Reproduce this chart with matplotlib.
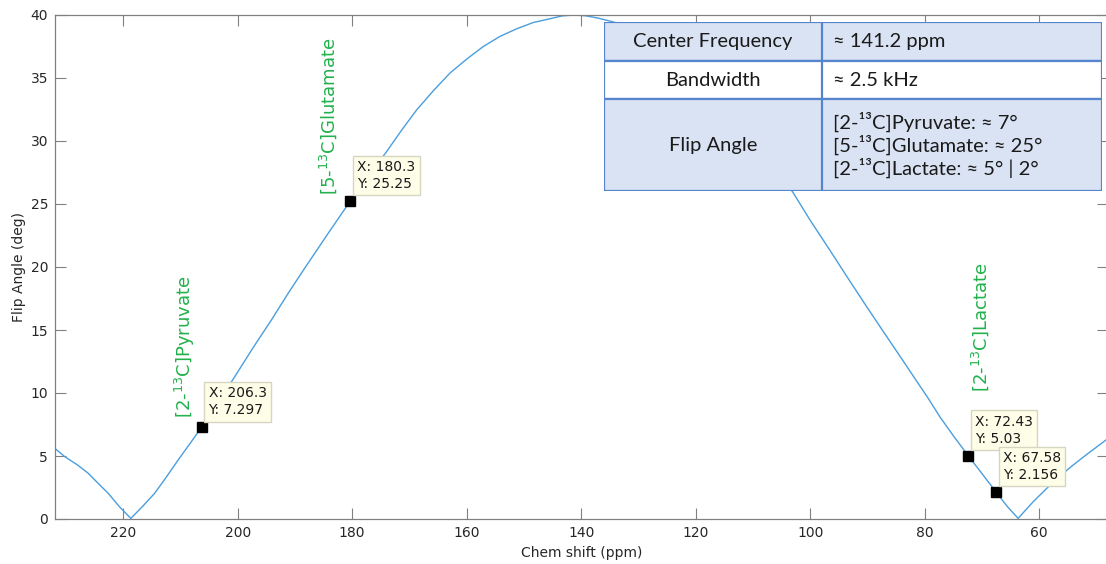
import matplotlib.pyplot as plt
from matplotlib.patches import Rectangle

# flip angle profile
shift_ppm = [231.9, 230.2, 228.0, 226.1, 224.3, 222.6, 220.6, 218.65, 216.5, 214.5,
             212.5, 210.4, 208.3, 206.3, 203.5, 200.5, 197.3, 194.1, 191.2, 188.3,
             184.3, 180.3, 177.2, 174.0, 171.3, 168.75, 165.8, 162.9, 160.0, 157.1,
             154.2, 151.3, 148.4, 145.5, 143.3, 141.2, 139.1, 137.0, 134.0, 131.0,
             128.0, 125.0, 122.0, 119.0, 116.0, 113.0, 110.0, 106.5, 103.1, 100.0,
             96.6, 93.4, 90.15, 87.2, 84.3, 81.8, 79.4, 77.35, 75.0, 72.43,
             70.0, 67.58, 65.6, 63.7, 61.0, 58.1, 54.6, 51.5, 48.35, 47.5]
flip_deg = [5.6, 4.95, 4.3, 3.63, 2.8, 2.04, 0.95, 0.05, 1.05, 2.04,
            3.3, 4.68, 6.0, 7.297, 9.2, 11.3, 13.6, 15.8, 17.9, 19.9,
            22.6, 25.25, 27.2, 29.15, 30.9, 32.46, 34.0, 35.4, 36.5, 37.5,
            38.3, 38.9, 39.4, 39.7, 39.93, 40.0, 39.93, 39.75, 39.4, 38.9,
            38.2, 37.3, 36.1, 34.7, 33.1, 31.3, 29.4, 27.6, 25.98, 23.7,
            21.35, 19.1, 16.85, 14.85, 12.9, 11.2, 9.58, 8.1, 6.6, 5.03,
            3.6, 2.156, 1.0, 0.05, 1.4, 2.7, 4.1, 5.2, 6.27, 6.6]

# data tips
tip_x = [206.3, 180.3, 72.43, 67.58]
tip_y = [7.297, 25.25, 5.03, 2.156]
tip_text = ['X: 206.3\nY: 7.297', 'X: 180.3\nY: 25.25',
            'X: 72.43\nY: 5.03', 'X: 67.58\nY: 2.156']

# green metabolite labels (x, bottom y)
metab_names = [r'[2-$^{13}$C]Pyruvate', r'[5-$^{13}$C]Glutamate', r'[2-$^{13}$C]Lactate']
metab_x = [209.2, 184.25, 70.35]
metab_y = [8.0, 25.7, 10.1]

# table contents
row_names = ['Center Frequency', 'Bandwidth', 'Flip Angle']
row_values = ['≈ 141.2 ppm', '≈ 2.5 kHz',
              '[2-¹³C]Pyruvate: ≈ 7°\n[5-¹³C]Glutamate: ≈ 25°\n[2-¹³C]Lactate: ≈ 5° | 2°']

W, H = 1106, 564
fig = plt.figure(figsize=(W / 100, H / 100), dpi=100)
ax = fig.add_axes([55 / W, 1 - 519 / H, (1108 - 55) / W, (519 - 15) / H])

ax.plot(shift_ppm, flip_deg, color='#4a9ede', linewidth=1.0)
ax.plot(tip_x, tip_y, 's', color='black', markersize=7, linestyle='none')

for x, y, t in zip(tip_x, tip_y, tip_text):
    ax.annotate(t, (x, y), xytext=(5, 7), textcoords='offset points',
                ha='left', va='bottom', fontsize=10, color='#1a1a1a',
                linespacing=1.3,
                bbox=dict(boxstyle='square,pad=0.3', fc='#fdfde8', ec='#d6d6c0', lw=1))

for name, x, y in zip(metab_names, metab_x, metab_y):
    ax.text(x, y, name, rotation=90, ha='center', va='bottom',
            color='#22b14c', fontsize=13)

ax.set_xlim(231.9, 48.0)
ax.set_ylim(0, 40)
ax.set_xticks([220, 200, 180, 160, 140, 120, 100, 80, 60])
ax.set_yticks(range(0, 41, 5))
ax.tick_params(direction='in', length=8, width=0.8, top=True, right=True,
               colors='#808080', labelcolor='#262626', labelsize=10, pad=5)
for s in ax.spines.values():
    s.set_color('#808080')
    s.set_linewidth(0.9)
ax.set_xlabel('Chem shift (ppm)', fontsize=10, color='#262626', labelpad=4)
ax.set_ylabel('Flip Angle (deg)', fontsize=10, color='#262626', labelpad=3)

# table drawn on top, in pixel coordinates
tab = fig.add_axes([604 / W, 1 - 191 / H, (1102 - 604) / W, (191 - 22) / H])
tab.set_xlim(604, 1102)
tab.set_ylim(191, 22)
tab.axis('off')
rows_top = [22, 61, 99]
rows_bot = [61, 99, 191]
fills = ['#dae3f3', 'white', '#dae3f3']
col_split = 822
tfont = ['Lato', 'DejaVu Sans']
for i in range(3):
    tab.add_patch(Rectangle((604, rows_top[i]), 1102 - 604, rows_bot[i] - rows_top[i],
                            fc=fills[i], ec='#5585cc', lw=1.6))
    mid = (rows_top[i] + rows_bot[i]) / 2
    tab.text((604 + col_split) / 2, mid, row_names[i], ha='center', va='center',
             fontsize=14.5, family=tfont, color='#1a1a1a')
    tab.text(833, mid, row_values[i], ha='left', va='center',
             fontsize=14.5, family=tfont, color='#1a1a1a', linespacing=1.15)
tab.plot([col_split, col_split], [22, 191], color='#5585cc', lw=1.6)

fig.savefig('out.png', dpi=100)
